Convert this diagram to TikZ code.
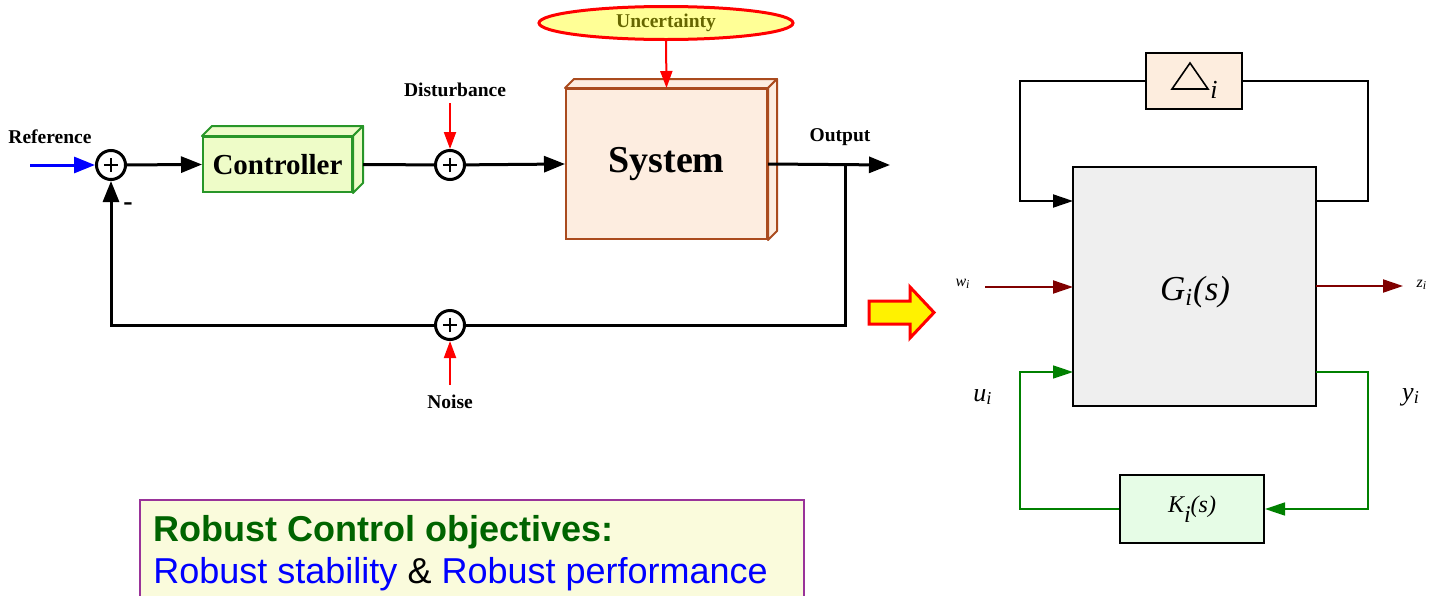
\documentclass[tikz,border=0pt]{standalone}
\usepackage{fontspec}
\setmainfont{Liberation Serif}
\newfontfamily\arialfont{Liberation Sans}
\usetikzlibrary{arrows.meta,shapes.geometric}

\definecolor{ctrlfill}{RGB}{238,252,200}
\definecolor{ctrlline}{RGB}{40,150,40}
\definecolor{sysfill}{RGB}{253,237,224}
\definecolor{sysline}{RGB}{170,75,30}
\definecolor{uncfill}{RGB}{255,255,150}
\definecolor{olivetext}{RGB}{102,102,0}
\definecolor{deltafill}{RGB}{253,237,222}
\definecolor{gfill}{RGB}{239,239,239}
\definecolor{kfill}{RGB}{230,252,230}
\definecolor{sigred}{RGB}{128,0,0}
\definecolor{loopgreen}{RGB}{0,128,0}
\definecolor{notefill}{RGB}{250,251,220}
\definecolor{noteline}{RGB}{153,51,153}
\definecolor{titlegreen}{RGB}{0,100,0}
\definecolor{linkblue}{RGB}{0,0,255}

\begin{document}
\begin{tikzpicture}[x=0.5pt,y=-0.5pt,
  lbl/.style={font=\fontsize{9.75}{11}\selectfont\bfseries, inner sep=0pt},
  sig/.style={line width=1.5pt, black},
  bigtip/.style={-{Triangle[length=10.5pt,width=8pt]}},
  redsig/.style={line width=1pt, red, -{Triangle[length=8.5pt,width=6pt]}},
  sumnode/.style={circle, draw, line width=1.5pt, fill=white, minimum size=14.5pt, inner sep=0pt,
    path picture={
      \draw[line width=1.3pt] ([xshift=-3.6pt]path picture bounding box.center) -- ([xshift=3.6pt]path picture bounding box.center);
      \draw[line width=1.3pt] ([yshift=-3.6pt]path picture bounding box.center) -- ([yshift=3.6pt]path picture bounding box.center);
    }},
  blk/.style={draw, line width=1pt, inner sep=0pt},
  rtip/.style={-{Triangle[length=10pt,width=6.5pt]}},
  mathlbl/.style={font=\itshape, inner sep=0pt}
]
\useasboundingbox (0,0) rectangle (1443,595);

% ---------------- feedback loop with uncertainty ----------------
\node[sumnode] (sumA) at (111,165) {};
\node[sumnode] (sumB) at (450,165) {};
\node[sumnode] (sumC) at (450,325) {};

\node[draw=ctrlline, fill=ctrlfill, line width=1pt, minimum width=74.5pt, minimum height=27.5pt, inner sep=0pt,
      font=\fontsize{14.5}{16}\selectfont\bfseries] (ctrl) at (277.5,164.5) {Controller};
\node[draw=sysline, fill=sysfill, line width=1pt, minimum width=100.5pt, minimum height=75pt, inner sep=0pt,
      font=\fontsize{19}{21}\selectfont\bfseries] (sys) at (666.5,164) {\raisebox{-1pt}{System}};

% 3-D faces of the two blocks
\filldraw[draw=ctrlline, fill=ctrlfill, line width=1pt, line join=round]
  (ctrl.north west) -- ([shift={(10,-10)}]ctrl.north west) -- ([shift={(10,-10)}]ctrl.north east) -- (ctrl.north east) -- cycle;
\filldraw[draw=ctrlline, fill=ctrlfill, line width=1pt, line join=round]
  (ctrl.north east) -- ([shift={(10,-10)}]ctrl.north east) -- ([shift={(10,-10)}]ctrl.south east) -- (ctrl.south east) -- cycle;
\filldraw[draw=sysline, fill=sysfill, line width=1pt, line join=round]
  (sys.north west) -- ([shift={(9,-9)}]sys.north west) -- ([shift={(9,-9)}]sys.north east) -- (sys.north east) -- cycle;
\filldraw[draw=sysline, fill=sysfill, line width=1pt, line join=round]
  (sys.north east) -- ([shift={(9,-9)}]sys.north east) -- ([shift={(9,-9)}]sys.south east) -- (sys.south east) -- cycle;

\node[ellipse, draw=red, fill=uncfill, line width=1.5pt, minimum width=127pt, minimum height=16.5pt, inner sep=0pt,
      font=\fontsize{9.75}{11}\selectfont\bfseries, text=olivetext] (unc) at (666,23) {\raisebox{-1.5pt}{Uncertainty}};

\node[lbl] (reflbl) at (50,137) {Reference};
\node[lbl] (distlbl) at (455,90) {Disturbance};
\node[lbl] (outlbl) at (840,137) {Output};
\node[lbl] (noiselbl) at (450,402) {Noise};
\node[font=\fontsize{14}{14}\selectfont\bfseries, inner sep=0pt] (minus) at (128,207) {-};

\coordinate (refin) at (30,165);
\coordinate (distin) at (450,103);
\coordinate (noisein) at (450,385);
\coordinate (branch) at (845,165);
\coordinate (outend) at (890,165);
\coordinate (fbR) at (845,325);
\coordinate (fbL) at (111,325);

\draw[line width=1.5pt, linkblue, bigtip] (refin) -- (sumA);
\draw[sig, bigtip] (sumA) -- (ctrl.west);
\draw[sig] ([xshift=5pt]ctrl.east) -- (sumB);
\draw[sig, bigtip] (sumB) -- (sys.west);
\draw[sig, bigtip] (sys.east) -- (outend);
\draw[sig, line join=miter] (branch) -- (fbR) -- (sumC);
\draw[sig, bigtip, line join=miter] (sumC) -- (fbL) -- (sumA);
\draw[redsig] (distin) -- (sumB);
\draw[redsig] (noisein) -- (sumC);
\draw[redsig] (unc.south) -- (sys.north);

% ---------------- transition arrow ----------------
\filldraw[draw=red, fill=yellow, line width=1.5pt, line join=miter]
  (869,301) -- (910,301) -- (910,287) -- (934,312.5) -- (910,338) -- (910,324) -- (869,324) -- cycle;

% ---------------- generalized plant ----------------
\node[blk, fill=deltafill, minimum width=48pt, minimum height=28pt] (delta) at (1194,81) {};
\draw[line width=0.8pt, line join=miter] (1172,89) -- (1190,63) -- (1208,89) -- cycle;
\node[mathlbl, font=\fontsize{13}{13}\selectfont\itshape] (deltasub) at (1214,90) {i};

\node[blk, fill=gfill, minimum width=121.5pt, minimum height=119.5pt] (G) at (1194.5,286.5) {};
\node[mathlbl, font=\fontsize{17.5}{18}\selectfont\itshape] (Glbl) at (1195,292) {G\textsubscript{i}(s)};

\node[blk, fill=kfill, minimum width=72pt, minimum height=34pt,
      font=\fontsize{12}{13}\selectfont\itshape] (K) at (1192,509) {K\raisebox{-0.4em}{i}(s)};

\coordinate (dL) at (1020,81);
\coordinate (dR) at (1368,81);
\coordinate (gTopIn) at (1073,201);
\coordinate (gTopOut) at (1316,201);
\coordinate (wIn) at (985,287);
\coordinate (gW) at (1073,287);
\coordinate (gZ) at (1316,286);
\coordinate (zOut) at (1403,286);
\coordinate (gUIn) at (1073,372);
\coordinate (gYOut) at (1316,372);
\coordinate (kL) at (1020,509);
\coordinate (kR) at (1368,509);

\draw[line width=1pt, rtip, line join=miter] (delta.west) -- (dL) |- (gTopIn);
\draw[line width=1pt, line join=miter] (gTopOut) -| (dR) -- (delta.east);
\draw[line width=1pt, sigred, rtip] (wIn) -- (gW);
\draw[line width=1pt, sigred, rtip] (gZ) -- (zOut);
\draw[line width=0.8pt, loopgreen, rtip, line join=miter] (gYOut) -| (kR) -- (K.east);
\draw[line width=0.8pt, loopgreen, rtip, line join=miter] (K.west) -- (kL) |- (gUIn);

\node[mathlbl, font=\fontsize{8}{8}\selectfont\itshape] (wlbl) at (963,284) {w\textsubscript{i}};
\node[mathlbl, font=\fontsize{8}{8}\selectfont\itshape] (zlbl) at (1422,285) {z\textsubscript{i}};
\node[mathlbl, font=\fontsize{13}{13}\selectfont\itshape] (ulbl) at (983,397) {u\textsubscript{i}};
\node[mathlbl, font=\fontsize{13}{13}\selectfont\itshape] (ylbl) at (1411,397) {y\textsubscript{i}};

% ---------------- objectives box ----------------
\path[draw=noteline, fill=notefill, line width=0.8pt] (140,500) rectangle (804,600);
\node[anchor=base west, inner sep=0pt, font=\arialfont\fontsize{18}{21}\selectfont\bfseries, text=titlegreen]
  (objtitle) at (153,541) {Robust Control objectives:};
\node[anchor=base west, inner sep=0pt, font=\arialfont\fontsize{18}{21}\selectfont]
  (objtext) at (153,583) {\textcolor{linkblue}{Robust stability} \& \textcolor{linkblue}{Robust performance}};
\end{tikzpicture}
\end{document}
